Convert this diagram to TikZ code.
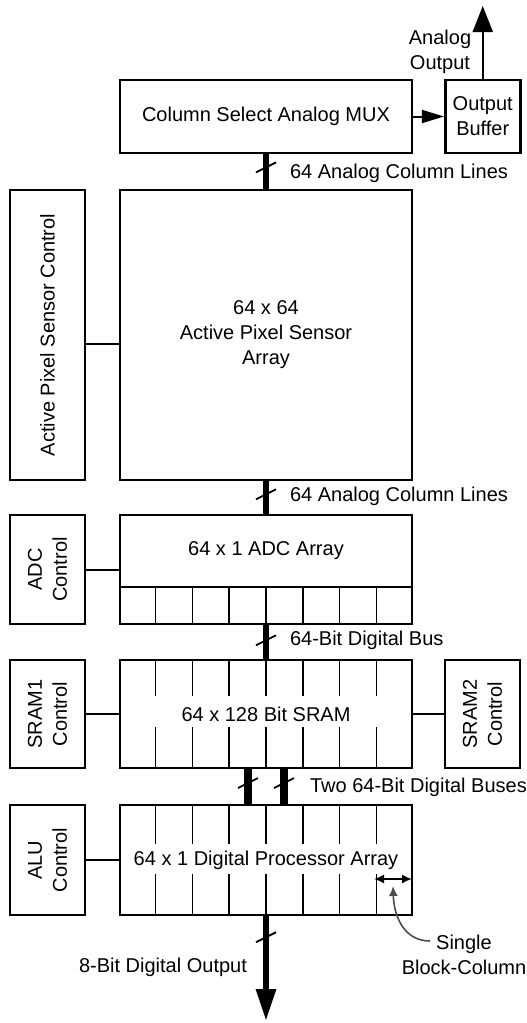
\documentclass[tikz,border=0pt]{standalone}
\usepackage{fontspec}
\setmainfont{Liberation Sans}
\usetikzlibrary{positioning, arrows.meta, calc}

% short slanted stroke across a bus
\newcommand{\busmark}[1]{\draw[busslash] ($(#1)+(-10,5)$) -- ($(#1)+(10,-5)$);}

\begin{document}
\begin{tikzpicture}[x=0.5pt, y=-0.5pt,
			font=\fontsize{10}{12.5}\selectfont,
			block/.style={draw=black, line width=1.3pt, inner sep=0pt, align=center},
			link/.style={draw=black, line width=1pt},
			bus/.style={draw=black, line width=3pt},
			widebus/.style={draw=black, line width=4pt},
			cell/.style={draw=black, line width=0.7pt},
			busslash/.style={draw=black, line width=0.9pt},
			tag/.style={anchor=west}
			]
			\useasboundingbox (0,0) rectangle (526,1023);
			
			% main column of blocks
			\node[block, minimum width=146pt, minimum height=36.5pt] (mux) at (266,116.5) {Column Select Analog MUX};
			\node[block, minimum width=37.5pt, minimum height=36.5pt] (buf) at (482.75,116.5) {Output\\Buffer};
			\node[block, minimum width=146pt, minimum height=145pt] (array) at (266,335) {64 x 64\\Active Pixel Sensor\\Array};
			\node[block, minimum width=146pt, minimum height=36pt] (adc) at (266,551) {64 x 1 ADC Array};
			\node[block, minimum width=146pt, minimum height=18.5pt] (adccells) at (266,605.5) {};
			\node[block, minimum width=146pt, minimum height=54pt] (sram) at (266,714) {64 x 128 Bit SRAM};
			\node[block, minimum width=146pt, minimum height=55pt] (alu) at (266,860) {64 x 1 Digital Processor Array};
			
			% control blocks
			\node[block, minimum width=37.5pt, minimum height=145pt] (apsc) at (47.5,335) {};
			\node[rotate=90] (apsctxt) at (apsc) {Active Pixel Sensor Control};
			\node[block, minimum width=37.5pt, minimum height=54.5pt] (adcc) at (47.5,569.5) {};
			\node[rotate=90, align=center] (adcctxt) at (adcc) {ADC\\Control};
			\node[block, minimum width=37.5pt, minimum height=54pt] (s1c) at (47.5,714) {};
			\node[rotate=90, align=center] (s1ctxt) at (s1c) {SRAM1\\Control};
			\node[block, minimum width=37.5pt, minimum height=54pt] (s2c) at (482.5,714) {};
			\node[rotate=90, align=center] (s2ctxt) at (s2c) {SRAM2\\Control};
			\node[block, minimum width=37.5pt, minimum height=55pt] (aluc) at (47.5,860) {};
			\node[rotate=90, align=center] (aluctxt) at (aluc) {ALU\\Control};
			
			% block-columns
			\foreach \i in {1,...,7} {
				\draw[cell] ($(adccells.north west)!\i/8!(adccells.north east)$) -- ($(adccells.south west)!\i/8!(adccells.south east)$);
				\draw[cell] ($(sram.north west)!\i/8!(sram.north east)$) -- ++(0,37);
				\draw[cell] ($(sram.south west)!\i/8!(sram.south east)$) -- ++(0,-42);
				\draw[cell] ($(alu.north west)!\i/8!(alu.north east)$) -- ++(0,40);
				\draw[cell] ($(alu.south west)!\i/8!(alu.south east)$) -- ++(0,-42);
			}
			
			% control links
			\draw[link] ([yshift=-4.5pt]apsc.east) -- ([yshift=-4.5pt]array.west);
			\draw[link] (adcc.east) -- (adcc.east -| adc.west);
			\draw[link] (s1c.east) -- (sram.west);
			\draw[link] (sram.east) -- (s2c.west);
			\draw[link] (aluc.east) -- (alu.west);
			
			% analog output path
			\coordinate (aout) at (482.75,6);
			\draw[link, -{Triangle[length=11pt, width=6.5pt]}] (mux.east) -- (buf.west);
			\draw[link, -{Triangle[length=13pt, width=10pt]}] (buf.north) -- (aout);
			\node[align=center] (aoutlbl) at (440,52) {Analog\\Output};
			
			% buses
			\draw[bus] (mux.south) -- coordinate[pos=0.38] (m1) (array.north);
			\busmark{m1}
			\node[tag] (l1) at (283,173) {64 Analog Column Lines};
			\draw[bus] (array.south) -- coordinate[pos=0.4] (m2) (adc.north);
			\busmark{m2}
			\node[tag] (l2) at (283,496) {64 Analog Column Lines};
			\draw[bus] (adccells.south) -- coordinate[pos=0.45] (m3) (sram.north);
			\busmark{m3}
			\node[tag] (l3) at (283,640) {64-Bit Digital Bus};
			\draw[widebus] ($(sram.south)+(-18,0)$) -- coordinate[pos=0.4] (m4) ($(alu.north)+(-18,0)$);
			\draw[widebus] ($(sram.south)+(18,0)$) -- coordinate[pos=0.4] (m5) ($(alu.north)+(18,0)$);
			\busmark{m4}
			\busmark{m5}
			\node[tag] (l4) at (303,787) {Two 64-Bit Digital Buses};
			
			% digital output
			\coordinate (dout) at (266,1021);
			\draw[bus, -{Triangle[length=16pt, width=9.5pt]}] (alu.south) -- coordinate[pos=0.2] (m6) (dout);
			\busmark{m6}
			\node[anchor=east] (l5) at (254,967) {8-Bit Digital Output};
			
			% single block-column marker
			\coordinate (bc1) at (374,879);
			\coordinate (bc2) at (412,879);
			\draw[link, line width=0.8pt, {Latex[length=5pt, width=4.5pt]}-{Latex[length=5pt, width=4.5pt]}] (bc1) -- (bc2);
			\node[align=center] (single) at (464,955) {Single\\Block-Column};
			\coordinate (ptr) at (430,941);
			\coordinate (ptrend) at (393,886);
			\draw[draw=black!70, line width=0.8pt, -{Latex[length=5pt, width=4.5pt]}] (ptr) .. controls (405,941) and (394,918) .. (ptrend);
		\end{tikzpicture}
\end{document}
